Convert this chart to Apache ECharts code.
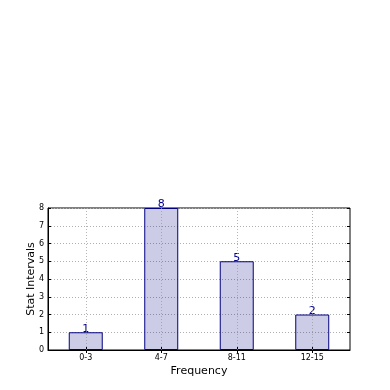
<!DOCTYPE html>
<html><head><meta charset="utf-8">
<script src="https://cdn.jsdelivr.net/npm/echarts@6/dist/echarts.min.js"></script>
<style>html,body{margin:0;padding:0;background:#fff}#c{width:390px;height:390px}</style>
</head><body><div id="c"></div>
<script>
const categories = ['0-3', '4-7', '8-11', '12-15'];
const values = [1, 8, 5, 2];
const yTicks = [0, 1, 2, 3, 4, 5, 6, 7, 8];

const chart = echarts.init(document.getElementById('c'), null, {renderer: 'canvas'});
const font = 'DejaVu Sans';
chart.setOption({
  animation: false,
  backgroundColor: '#fff',
  grid: {left: 48, right: 40, top: 208, bottom: 40, show: true, borderColor: '#000', borderWidth: 1, containLabel: false},
  xAxis: [{
    type: 'category', data: categories, boundaryGap: true,
    name: 'Frequency', nameLocation: 'middle', nameGap: 16,
    nameTextStyle: {fontFamily: font, fontSize: 11, color: '#000'},
    axisLine: {show: true, lineStyle: {color: '#000'}},
    axisTick: {show: true, alignWithLabel: true, inside: true, length: 3, lineStyle: {color: '#000'}},
    axisLabel: {fontFamily: font, fontSize: 8, color: '#000', margin: 4},
    splitLine: {show: false}
  }, {
    type: 'category', data: categories, position: 'top', boundaryGap: true,
    axisLine: {show: false},
    axisTick: {show: true, alignWithLabel: true, inside: true, length: 3, lineStyle: {color: '#000'}},
    axisLabel: {show: false}
  }],
  yAxis: [{
    type: 'value', min: yTicks[0], max: yTicks[yTicks.length - 1], interval: 1,
    name: 'Stat Intervals', nameLocation: 'middle', nameGap: 11, nameRotate: 90, nameMoveOverlap: false,
    nameTextStyle: {fontFamily: font, fontSize: 11, color: '#000'},
    axisLine: {show: true, lineStyle: {color: '#000'}},
    axisTick: {show: true, inside: true, length: 3, lineStyle: {color: '#000'}},
    axisLabel: {fontFamily: font, fontSize: 8, color: '#000', margin: 4},
    splitLine: {show: true, lineStyle: {color: '#b0b0b0', type: [1, 2], width: 1}}
  }, {
    type: 'value', min: yTicks[0], max: yTicks[yTicks.length - 1], interval: 1, position: 'right',
    axisLine: {show: false},
    axisTick: {show: true, inside: true, length: 3, lineStyle: {color: '#000'}},
    axisLabel: {show: false}, splitLine: {show: false}
  }],
  series: [{
    type: 'bar', data: values, barWidth: '45%', z: 2,
    itemStyle: {color: 'rgba(0,0,128,0.2)', borderColor: '#000080', borderWidth: 1},
    label: {show: true, position: 'top', distance: -2, fontFamily: font, fontSize: 11, color: '#00008b'},
    markLine: {
      silent: true, symbol: ['none', 'none'], label: {show: false}, animation: false,
      lineStyle: {color: 'rgba(150,150,150,0.7)', type: [1, 2], width: 1},
      data: categories.map(c => ({xAxis: c}))
    }
  }]
});
</script></body></html>
